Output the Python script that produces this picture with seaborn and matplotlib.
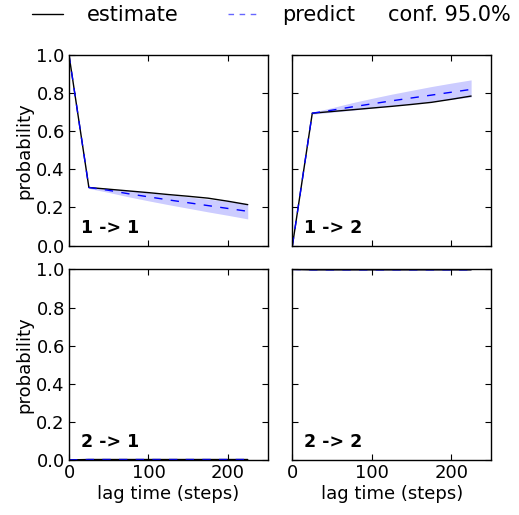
import numpy as np
import matplotlib
matplotlib.use("Agg")
import matplotlib.pyplot as plt
import matplotlib.lines as mlines
import seaborn as sns

sns.set_style("ticks", rc={"text.color": "black", "axes.labelcolor": "black",
                           "xtick.color": "black", "ytick.color": "black",
                           "axes.edgecolor": "black"})
plt.rcParams["font.family"] = ["DejaVu Sans"]

# ── Data ──────────────────────────────────────────────────
lags = [0, 25, 50, 75, 100, 125, 150, 175, 200, 225]

est_11 = [1.0, 0.305, 0.296, 0.287, 0.278, 0.268, 0.259, 0.249, 0.233, 0.215]
pred_11 = [1.0, 0.305, 0.290, 0.272, 0.256, 0.240, 0.225, 0.210, 0.195, 0.180]
lo_11 = [1.0, 0.300, 0.279, 0.256, 0.235, 0.215, 0.196, 0.177, 0.159, 0.140]
hi_11 = [1.0, 0.310, 0.300, 0.290, 0.278, 0.267, 0.256, 0.244, 0.232, 0.220]

est_12 = [0.0, 0.695, 0.704, 0.713, 0.722, 0.731, 0.741, 0.752, 0.768, 0.785]
pred_12 = [0.0, 0.695, 0.711, 0.728, 0.744, 0.760, 0.775, 0.790, 0.805, 0.820]
lo_12 = [0.0, 0.690, 0.700, 0.710, 0.722, 0.733, 0.744, 0.756, 0.768, 0.780]
hi_12 = [0.0, 0.700, 0.724, 0.750, 0.773, 0.795, 0.815, 0.835, 0.853, 0.870]

est_21 = [0.0, 0.002, 0.002, 0.002, 0.002, 0.002, 0.002, 0.002, 0.002, 0.002]
pred_21 = [0.0, 0.002, 0.002, 0.002, 0.002, 0.002, 0.002, 0.002, 0.002, 0.002]
lo_21 = [0.0, 0.0, 0.0, 0.0, 0.0, 0.0, 0.0, 0.0, 0.0, 0.0]
hi_21 = [0.0, 0.004, 0.004, 0.004, 0.004, 0.004, 0.004, 0.004, 0.004, 0.004]

est_22 = [1.0, 0.998, 0.998, 0.998, 0.998, 0.998, 0.998, 0.998, 0.998, 0.998]
pred_22 = [1.0, 0.998, 0.998, 0.998, 0.998, 0.998, 0.998, 0.998, 0.998, 0.998]
lo_22 = [1.0, 0.996, 0.996, 0.996, 0.996, 0.996, 0.996, 0.996, 0.996, 0.996]
hi_22 = [1.0, 1.0, 1.0, 1.0, 1.0, 1.0, 1.0, 1.0, 1.0, 1.0]

panels = [
    ("1 -> 1", est_11, pred_11, lo_11, hi_11),
    ("1 -> 2", est_12, pred_12, lo_12, hi_12),
    ("2 -> 1", est_21, pred_21, lo_21, hi_21),
    ("2 -> 2", est_22, pred_22, lo_22, hi_22),
]

DASH = (0, (6, 6))

# ── Figure ────────────────────────────────────────────────
fig, axes = plt.subplots(2, 2, figsize=(5.19, 5.15), dpi=100, sharex=True, sharey=True)
fig.subplots_adjust(left=0.133, right=0.946, top=0.893, bottom=0.107, wspace=0.125, hspace=0.125)

for ax, (name, est, pred, lo, hi) in zip(axes.flat, panels):
    ax.fill_between(lags, lo, hi, color="#0000ff", alpha=0.2, linewidth=0)
    sns.lineplot(x=lags, y=est, ax=ax, color="black", linewidth=1)
    sns.lineplot(x=lags, y=pred, ax=ax, color="#0000ff", linestyle=DASH, linewidth=1)
    ax.text(0.06, 0.045, name, transform=ax.transAxes, fontsize=12.5,
            fontweight="bold", va="bottom", ha="left")
    ax.set_xlim(0, 250)
    ax.set_ylim(0, 1.0)
    ax.set_xticks([0, 100, 200])
    ax.set_yticks([0.0, 0.2, 0.4, 0.6, 0.8, 1.0])
    ax.tick_params(direction="in", top=True, right=True, labelsize=13, length=4, pad=3)
    for s in ax.spines.values():
        s.set_linewidth(1)
        s.set_color("black")

for ax in axes[:, 0]:
    ax.set_ylabel("probability", fontsize=13, labelpad=2)
for ax in axes[1, :]:
    ax.set_xlabel("lag time (steps)", fontsize=13, labelpad=2)
for ax in axes[:, 1]:
    ax.tick_params(labelleft=False)
for ax in axes[0, :]:
    ax.tick_params(labelbottom=False)

h_est = mlines.Line2D([], [], color="black", linewidth=1)
h_pred = mlines.Line2D([], [], color="#6666ff", linestyle=(0, (4, 4)), linewidth=1)
fig.legend([h_est, h_pred], ["estimate", "predict"],
           loc="upper left", bbox_to_anchor=(0.026, 1.026), ncol=2, frameon=False,
           fontsize=15, handlelength=1.5, handletextpad=1.1, columnspacing=2.4)
fig.text(0.748, 0.970, "conf. 95.0%", fontsize=15, ha="left", va="center")

plt.savefig("out.png", dpi=100)
plt.close()
